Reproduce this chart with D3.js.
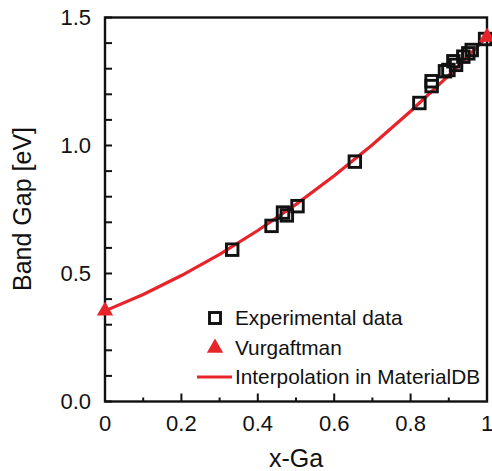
<!DOCTYPE html>
<html><head><meta charset="utf-8">
<script src="https://cdn.jsdelivr.net/npm/d3@7"></script>
<style>body{margin:0;background:#fff}svg{display:block}text{font-family:"Liberation Sans",Arial,sans-serif;fill:#111}</style>
</head><body><svg id="c" width="492" height="471"></svg>
<script>
// Experimental data (x-Ga, band gap eV)
const expX = [0.333, 0.436, 0.466, 0.476, 0.504, 0.654, 0.823, 0.855, 0.855, 0.890, 0.899, 0.912, 0.919, 0.938, 0.951, 0.960, 0.995];
const expY = [0.593, 0.686, 0.738, 0.727, 0.763, 0.937, 1.166, 1.251, 1.232, 1.290, 1.295, 1.329, 1.315, 1.347, 1.360, 1.373, 1.416];
// Vurgaftman end points
const vurX = [0, 1];
const vurY = [0.354, 1.424];
// Interpolation line samples
const lineX = [0, 0.1, 0.2, 0.3, 0.4, 0.5, 0.6, 0.7, 0.8, 0.9, 1.0];
const lineY = [0.354, 0.418, 0.492, 0.575, 0.668, 0.770, 0.882, 1.003, 1.134, 1.274, 1.424];
const xTicks = [0, 0.2, 0.4, 0.6, 0.8, 1];
const xTickLabels = ["0", "0.2", "0.4", "0.6", "0.8", "1"];
const yTicks = [0, 0.5, 1.0, 1.5];
const yTickLabels = ["0.0", "0.5", "1.0", "1.5"];
const legendLabels = ["Experimental data", "Vurgaftman", "Interpolation in MaterialDB"];

const RED = "#e8242b";
const svg = d3.select("#c");
const L = 105, R = 487, T = 17.5, B = 401.5;
const x = d3.scaleLinear().domain([0, 1]).range([L, R]);
const y = d3.scaleLinear().domain([0, 1.5]).range([B, T]);

// curve
svg.append("path")
  .datum(lineX.map((v, i) => [v, lineY[i]]))
  .attr("d", d3.line().x(d => x(d[0])).y(d => y(d[1])))
  .attr("fill", "none").attr("stroke", RED).attr("stroke-width", 3.2);

// frame
svg.append("rect").attr("x", L).attr("y", T).attr("width", R - L).attr("height", B - T)
  .attr("fill", "none").attr("stroke", "#111").attr("stroke-width", 2.4);

// y ticks (inward)
const yMinor = d3.range(0, 16).map(i => i / 10);
svg.append("g").selectAll("line").data(yMinor).join("line")
  .attr("x1", L).attr("x2", L + 7)
  .attr("y1", d => y(d)).attr("y2", d => y(d))
  .attr("stroke", "#111").attr("stroke-width", 2);
// x ticks
const xMinor = d3.range(0, 11).map(i => i / 10);
svg.append("g").selectAll("line").data(xMinor).join("line")
  .attr("x1", d => x(d)).attr("x2", d => x(d))
  .attr("y1", B).attr("y2", (d, i) => B - (i % 2 === 0 ? 8 : 4))
  .attr("stroke", "#111").attr("stroke-width", 2);

svg.append("g").selectAll("text").data(yTicks).join("text")
  .attr("x", L - 14).attr("y", d => y(d)).attr("dy", "0.36em")
  .attr("text-anchor", "end").attr("font-size", 22)
  .text((d, i) => yTickLabels[i]);
svg.append("g").selectAll("text").data(xTicks).join("text")
  .attr("x", d => x(d)).attr("y", 431)
  .attr("text-anchor", "middle").attr("font-size", 22)
  .text((d, i) => xTickLabels[i]);

svg.append("text").attr("x", x(0.5)).attr("y", 467).attr("text-anchor", "middle")
  .attr("font-size", 25).text("x-Ga");
svg.append("text").attr("transform", "translate(31,209) rotate(-90)").attr("text-anchor", "middle")
  .attr("font-size", 25).text("Band Gap [eV]");

// squares
const S = 11.5;
svg.append("g").selectAll("rect").data(expX.map((v, i) => [v, expY[i]])).join("rect")
  .attr("x", d => x(d[0]) - S / 2).attr("y", d => y(d[1]) - S / 2)
  .attr("width", S).attr("height", S)
  .attr("fill", "none").attr("stroke", "#111").attr("stroke-width", 2.9);

// triangles
const tri = d3.symbol().type(d3.symbolTriangle).size(115);
svg.append("g").selectAll("path").data(vurX.map((v, i) => [v, vurY[i]])).join("path")
  .attr("d", tri).attr("transform", d => `translate(${x(d[0])},${y(d[1])})`)
  .attr("fill", RED);

// legend
const lg = svg.append("g");
const rows = [318, 348, 377];
lg.append("rect").attr("x", 215 - 5.5).attr("y", rows[0] - 5.5).attr("width", 11).attr("height", 11)
  .attr("fill", "none").attr("stroke", "#111").attr("stroke-width", 2.9);
lg.append("path").attr("d", tri).attr("transform", `translate(215,${rows[1]})`).attr("fill", RED);
lg.append("line").attr("x1", 197).attr("x2", 232).attr("y1", rows[2]).attr("y2", rows[2])
  .attr("stroke", RED).attr("stroke-width", 3.2);
lg.selectAll("text").data(legendLabels).join("text")
  .attr("x", 235).attr("y", (d, i) => rows[i]).attr("dy", "0.36em")
  .attr("font-size", 20.8).text(d => d);
</script></body></html>
